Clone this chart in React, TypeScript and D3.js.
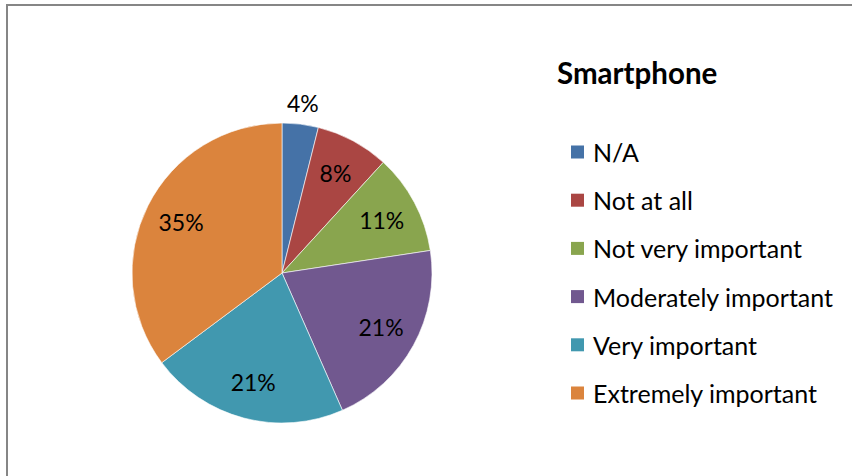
import React from "react";
import * as d3 from "d3";

const categories = [
  "N/A",
  "Not at all",
  "Not very important",
  "Moderately important",
  "Very important",
  "Extremely important",
];
const values = [3.9, 7.9, 10.8, 20.8, 21.4, 35.2];
const colors = ["#4572A7", "#AA4643", "#89A54E", "#71588F", "#4198AF", "#DB843D"];
const title = "Smartphone";

const W = 852;
const H = 476;
const FONT = "Lato, 'Open Sans', sans-serif";

export default function App() {
  const cx = 282;
  const cy = 273;
  const r = 150;
  const total = d3.sum(values);
  const pie = d3.pie<number>().sort(null).value((d) => d);
  const arcs = pie(values);
  const arc = d3.arc<d3.PieArcDatum<number>>().innerRadius(0).outerRadius(r);
  const inLabel = d3.arc<d3.PieArcDatum<number>>().innerRadius(113).outerRadius(113);
  const outLabel = d3.arc<d3.PieArcDatum<number>>().innerRadius(171).outerRadius(171);

  const legendY = d3.scalePoint<string>().domain(categories).range([152, 393]);

  return (
    <div style={{ position: "fixed", left: 0, top: 0 }}>
      <svg width={W} height={H} style={{ display: "block", background: "#fff" }}>
        <rect x={0} y={0} width={W} height={H} fill="#fff" />
        <path d={`M7,${H} L7,5 L${W},5`} fill="none" stroke="#868686" strokeWidth={2} />
        <g transform={`translate(${cx},${cy})`}>
          {arcs.map((a, i) => (
            <path key={i} d={arc(a) || ""} fill={colors[i]} stroke="#fff" strokeWidth={0.6} />
          ))}
          {arcs.map((a, i) => {
            const pct = (a.data / total) * 100;
            const [lx, ly] = pct < 5 ? outLabel.centroid(a) : inLabel.centroid(a);
            return (
              <text
                key={i}
                x={lx}
                y={ly}
                textAnchor="middle"
                dominantBaseline="central"
                fontFamily={FONT}
                fontSize={23}
                fill="#000"
              >
                {Math.round(pct)}%
              </text>
            );
          })}
        </g>
        <text x={557} y={84} fontFamily={FONT} fontSize={29.5} fontWeight="bold" fill="#000">
          {title}
        </text>
        {categories.map((c, i) => {
          const y = legendY(c) as number;
          return (
            <g key={c}>
              <rect x={571} y={y - 6.5} width={13} height={13} fill={colors[i]} />
              <text
                x={593}
                y={y}
                dominantBaseline="central"
                fontFamily={FONT}
                fontSize={25}
                fill="#000"
              >
                {c}
              </text>
            </g>
          );
        })}
      </svg>
    </div>
  );
}
